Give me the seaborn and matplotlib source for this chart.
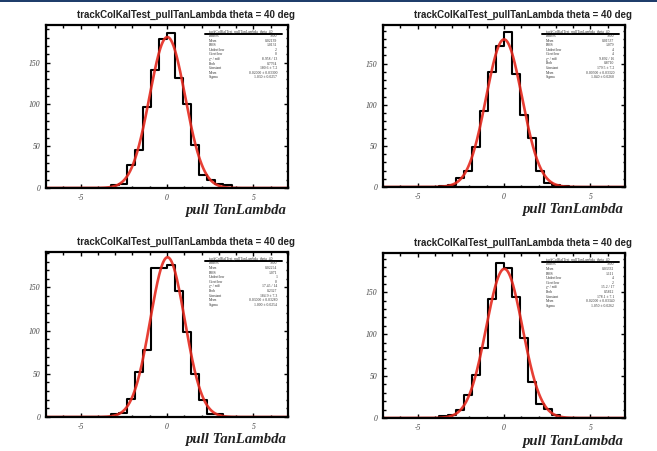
import numpy as np
import pandas as pd
import matplotlib
matplotlib.use("Agg")
import matplotlib.pyplot as plt
from matplotlib.ticker import MultipleLocator
from matplotlib.lines import Line2D
from matplotlib.patches import Rectangle
import seaborn as sns

# ---- data -------------------------------------------------------------
title = "trackColKalTest_pullTanLambda theta = 40 deg"
stat_header = "trackColKalTest_pullTanLambda_theta_40"
xlabel = "pull TanLambda"

bin_edges = np.linspace(-7, 7, 31)

counts_tl = [0, 0, 0, 0, 0, 0, 0, 0, 3, 5, 27, 45, 97, 141, 178,
             186, 131, 100, 51, 16, 9, 5, 3, 0, 0, 0, 0, 0, 0, 0]
counts_tr = [0, 0, 0, 0, 0, 0, 0, 1, 3, 11, 20, 49, 93, 140, 172,
             188, 138, 88, 59, 20, 5, 3, 1, 0, 0, 0, 0, 0, 0, 0]
counts_bl = [0, 0, 0, 0, 0, 0, 0, 0, 3, 5, 21, 52, 77, 172, 172,
             176, 146, 98, 50, 20, 4, 3, 0, 0, 0, 0, 0, 0, 0, 0]
counts_br = [0, 0, 0, 0, 0, 0, 0, 2, 3, 9, 27, 51, 84, 142, 185,
             179, 144, 96, 43, 17, 11, 4, 0, 0, 0, 0, 0, 0, 0, 0]

# Gaussian fit results per panel
fit_constant = [180.6, 179.5, 184.9, 178.1]
fit_constant_err = [7.2, 7.2, 7.3, 7.1]
fit_mean = [0.020, 0.005, 0.030, 0.020]
fit_mean_err = [0.0330, 0.0332, 0.0328, 0.0334]
fit_sigma = [1.030, 1.040, 1.000, 1.050]
fit_sigma_err = [0.0257, 0.0260, 0.0254, 0.0262]

# Other statistics box entries
entries = ["1000", "1000", "1000", "1000"]
hist_mean = ["0.02139", "0.01537", "0.02254", "0.03332"]
hist_rms = ["1.0131", "1.079", "1.071", "1.111"]
underflow = ["2", "4", "1", "4"]
overflow = ["0", "4", "0", "2"]
chi2_ndf = ["8.958 / 13", "9.892 / 16", "17.45 / 14", "15.2 / 17"]
fit_prob = ["0.7764", "0.8710", "0.2327", "0.5812"]

ymax = [195, 197, 191, 197]

all_counts = [counts_tl, counts_tr, counts_bl, counts_br]

# ---- style ------------------------------------------------------------
sns.set_style("ticks")
plt.rcParams["font.family"] = ["Liberation Serif", "DejaVu Serif"]
plt.rcParams["axes.unicode_minus"] = False

W, H = 657, 451
fig = plt.figure(figsize=(W / 100, H / 100), dpi=100)
fig.patch.set_facecolor("white")

# navy strip along the top edge
fig.add_artist(Rectangle((0, 1 - 2 / H), 1, 2 / H, transform=fig.transFigure,
                         facecolor="#1f3d6b", edgecolor="none"))

# frame boxes in pixels: left, top, width, height
frames = [(46, 25, 242, 163), (383, 25, 242, 162),
          (46, 252, 242, 165), (383, 253, 242, 165)]

centers = (bin_edges[:-1] + bin_edges[1:]) / 2
xfit = np.linspace(-7, 7, 600)

for i, (l, t, w, h) in enumerate(frames):
    ax = fig.add_axes([l / W, 1 - (t + h) / H, w / W, h / H])
    df = pd.DataFrame({"x": centers, "n": all_counts[i]})
    sns.histplot(data=df, x="x", weights="n", bins=bin_edges.tolist(), element="step",
                 fill=False, color="black", linewidth=1.5, ax=ax)
    gfit = fit_constant[i] * np.exp(-0.5 * ((xfit - fit_mean[i]) / fit_sigma[i]) ** 2)
    sns.lineplot(x=xfit, y=gfit, color="#e52a1f", linewidth=1.9, alpha=0.9, ax=ax)

    ax.set_xlim(-7, 7)
    ax.set_ylim(0, ymax[i])
    ax.set_xlabel("")
    ax.set_ylabel("")
    ax.xaxis.set_major_locator(MultipleLocator(5))
    ax.xaxis.set_minor_locator(MultipleLocator(1))
    ax.yaxis.set_major_locator(MultipleLocator(50))
    ax.yaxis.set_minor_locator(MultipleLocator(10))
    ax.tick_params(which="both", direction="in", top=True, right=True,
                   width=1.0, color="black")
    ax.tick_params(which="major", length=3.2, pad=4)
    ax.tick_params(which="minor", length=1.8)
    for lab in ax.get_xticklabels() + ax.get_yticklabels():
        lab.set_fontsize(5.5)
        lab.set_fontstyle("italic")
        lab.set_color("#444444")
    for sp in ax.spines.values():
        sp.set_visible(True)
        sp.set_linewidth(1.6)
        sp.set_color("black")

    # title above the frame
    fig.text((l + w + 7) / W, 1 - (t - 10) / H, title, ha="right", va="center",
             fontsize=7.0, fontweight="bold", family=["Liberation Sans", "DejaVu Sans"],
             color="#222222")
    # axis title below the frame
    fig.text((l + w - 2) / W, 1 - (t + h + 23) / H, xlabel, ha="right", va="center",
             fontsize=10.6, fontweight="bold", fontstyle="italic", color="#222222")

    # statistics box
    fs = 2.7
    ax.text(0.806, 0.958, stat_header, transform=ax.transAxes, ha="center",
            va="center", fontsize=fs, color="#333333")
    ax.add_line(Line2D([0.657, 0.975], [0.944, 0.944], transform=ax.transAxes,
                       color="black", linewidth=1.4))
    rows = [
        ("Entries", entries[i]),
        ("Mean", hist_mean[i]),
        ("RMS", hist_rms[i]),
        ("Underflow", underflow[i]),
        ("Overflow", overflow[i]),
        ("\u03c7\u00b2 / ndf", chi2_ndf[i]),
        ("Prob", fit_prob[i]),
        ("Constant", f"{fit_constant[i]:.1f} \u00b1 {fit_constant_err[i]:.1f}"),
        ("Mean", f"{fit_mean[i]:.5f} \u00b1 {fit_mean_err[i]:.5f}"),
        ("Sigma", f"{fit_sigma[i]:.3f} \u00b1 {fit_sigma_err[i]:.4f}"),
    ]
    for r, (name, val) in enumerate(rows):
        y = 0.932 - r * 0.0282
        ax.text(0.674, y, name, transform=ax.transAxes, ha="left", va="center",
                fontsize=fs, color="#333333")
        ax.text(0.955, y, val, transform=ax.transAxes, ha="right", va="center",
                fontsize=fs, color="#333333")

fig.savefig("out.png", dpi=100)
